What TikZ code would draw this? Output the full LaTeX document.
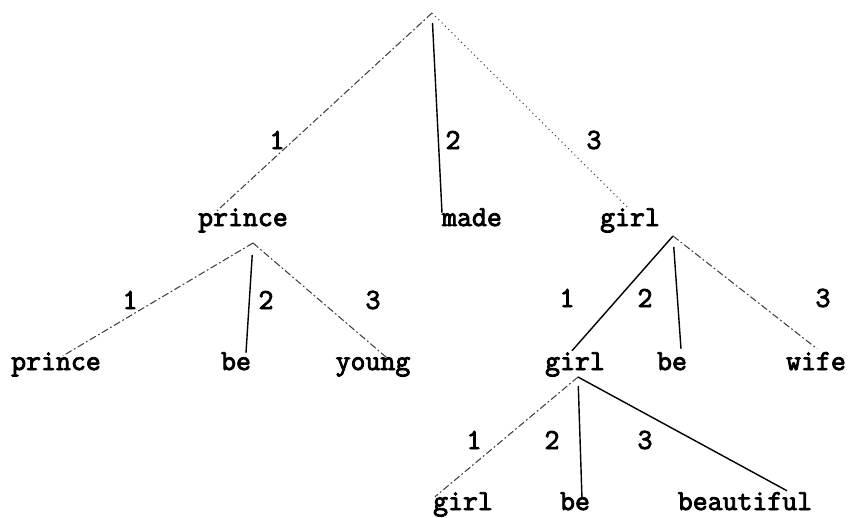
\documentclass[tikz,border=0pt]{standalone}
\usepackage{fontspec}
\newfontfamily\typew{Latin Modern Mono}[FakeBold=3]
\usetikzlibrary{calc,positioning}

\begin{document}
\begin{tikzpicture}[x=0.02cm,y=-0.02cm,
			word/.style={anchor=base,inner sep=0pt,text height=0.62em,text depth=0.2em,font=\fontsize{16.5}{18}\selectfont\typew},
			num/.style={inner sep=0pt,font=\fontsize{16.5}{18}\selectfont\typew},
			link/.style={draw=black,line width=0.8pt},
			faint/.style={draw=black!75,line width=0.6pt,dash pattern=on 4pt off 1.5pt on 1pt off 1.5pt}
			]
			\useasboundingbox (0,0) rectangle (850,518);
			% apex points
			\coordinate (top) at (432,13);
			\coordinate (pr-top) at (253,243);
			\coordinate (gi-top) at (673,236);
			\coordinate (gj-top) at (578,377);
			% words
			\node[word] (prince) at (243,226) {prince};
			\node[word] (made) at (472,226) {made};
			\node[word] (girl) at (630,226) {girl};
			\node[word] (prince2) at (56,370) {prince};
			\node[word] (be1) at (236,370) {be};
			\node[word] (young) at (373,370) {young};
			\node[word] (girl2) at (575,370) {girl};
			\node[word] (be2) at (672,370) {be};
			\node[word] (wife) at (816,370) {wife};
			\node[word] (girl3) at (463,510) {girl};
			\node[word] (be3) at (575,510) {be};
			\node[word] (beaut) at (745,510) {beautiful};
			% root
			\draw[faint] (top) -- ($(prince.north)+(-26,-4)$);
			\draw[link,shorten <=0.2cm] (top) -- ($(made.north)+(-30,-2)$);
			\draw[faint,dotted] (top) -- ($(girl.north)+(-3,-8)$);
			\node[num] (r1) at (277,140) {1};
			\node[num] (r2) at (453,140) {2};
			\node[num] (r3) at (594,140) {3};
			% prince
			\draw[faint] (pr-top) -- ($(prince2.north)+(7,-3)$);
			\draw[link,shorten <=0.24cm] (pr-top) -- ($(be1.north)+(10,-6)$);
			\draw[faint] (pr-top) -- ($(young.north)+(15,0)$);
			\node[num] (p1) at (130,300) {1};
			\node[num] (p2) at (266,300) {2};
			\node[num] (p3) at (373,300) {3};
			% girl
			\draw[link] (gi-top) -- ($(girl2.north)+(-3,-8)$);
			\draw[link,shorten <=0.22cm] (gi-top) -- ($(be2.north)+(9,-10)$);
			\draw[faint] (gi-top) -- ($(wife.north)+(1,-10)$);
			\node[num] (g1) at (567,298) {1};
			\node[num] (g2) at (645,298) {2};
			\node[num] (g3) at (823,298) {3};
			% girl, lower
			\draw[faint] (gj-top) -- ($(girl3.north)+(-28,-2)$);
			\draw[link,shorten <=0.18cm] (gj-top) -- ($(be3.north)+(7,0)$);
			\draw[link] (gj-top) -- ($(beaut.north)+(42,-8)$);
			\node[num] (h1) at (474,440) {1};
			\node[num] (h2) at (552,440) {2};
			\node[num] (h3) at (645,440) {3};
		\end{tikzpicture}
\end{document}
